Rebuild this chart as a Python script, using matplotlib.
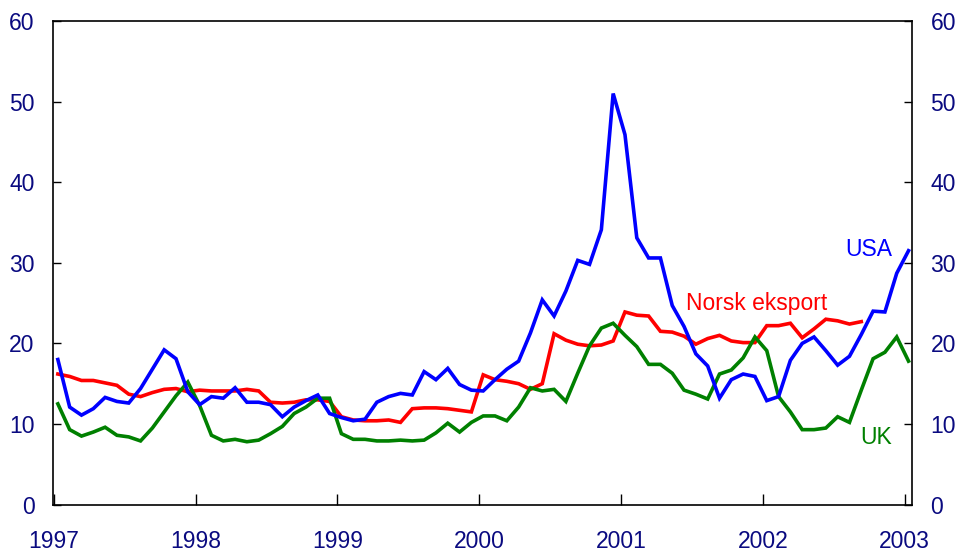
import numpy as np
import matplotlib
matplotlib.use("Agg")
import matplotlib.pyplot as plt

# Monthly series, January 1997 - January 2003
usa = [18.0, 12.1, 11.1, 11.9, 13.3, 12.8, 12.6, 14.4, 16.8, 19.2, 18.1, 14.0,
       12.4, 13.4, 13.2, 14.5, 12.7, 12.7, 12.4, 10.9, 12.1, 12.9, 13.6, 11.3,
       10.8, 10.4, 10.6, 12.7, 13.4, 13.8, 13.6, 16.5, 15.5, 16.9, 14.9, 14.2,
       14.1, 15.5, 16.8, 17.8, 21.3, 25.4, 23.4, 26.5, 30.3, 29.8, 34.1, 51.0,
       45.9, 33.1, 30.6, 30.6, 24.7, 22.1, 18.7, 17.2, 13.2, 15.5, 16.2, 15.9,
       12.9, 13.4, 17.9, 20.0, 20.8, 19.1, 17.3, 18.4, 21.1, 24.0, 23.9, 28.7,
       31.5]

norsk = [16.2, 15.9, 15.4, 15.4, 15.1, 14.8, 13.7, 13.4, 13.9, 14.3, 14.4, 14.0,
         14.2, 14.1, 14.1, 14.1, 14.3, 14.1, 12.7, 12.6, 12.7, 13.0, 13.0, 12.8,
         10.9, 10.5, 10.4, 10.4, 10.5, 10.2, 11.9, 12.0, 12.0, 11.9, 11.7, 11.5,
         16.1, 15.5, 15.3, 15.0, 14.3, 15.0, 21.2, 20.4, 19.9, 19.7, 19.8, 20.3,
         23.9, 23.5, 23.4, 21.5, 21.4, 20.9, 19.9, 20.6, 21.0, 20.3, 20.1, 20.1,
         22.2, 22.2, 22.5, 20.7, 21.8, 23.0, 22.8, 22.4, 22.7]

uk = [12.5, 9.3, 8.5, 9.0, 9.6, 8.6, 8.4, 7.9, 9.5, 11.5, 13.5, 15.2,
      12.3, 8.6, 7.9, 8.1, 7.8, 8.0, 8.8, 9.7, 11.3, 12.1, 13.2, 13.2,
      8.8, 8.1, 8.1, 7.9, 7.9, 8.0, 7.9, 8.0, 8.9, 10.1, 9.0, 10.2,
      11.0, 11.0, 10.4, 12.1, 14.5, 14.1, 14.3, 12.8, 16.3, 19.7, 21.9, 22.5,
      21.0, 19.6, 17.4, 17.4, 16.3, 14.2, 13.7, 13.1, 16.2, 16.7, 18.2, 20.8,
      19.1, 13.4, 11.5, 9.3, 9.3, 9.5, 10.9, 10.2, 14.2, 18.1, 18.9, 20.8,
      17.8]

start_year = 1997
years = [1997, 1998, 1999, 2000, 2001, 2002, 2003]
yticks = [0, 10, 20, 30, 40, 50, 60]


def month_positions(n):
    # fractional year for each month (around the 10th of the month)
    return start_year + (np.arange(n) + 1 / 3) / 12


navy = "#0a0a80"
plt.rcParams["font.family"] = ["Liberation Sans", "DejaVu Sans"]

fig = plt.figure(figsize=(9.62, 5.51), dpi=100)
ax = fig.add_axes([0.0556, 0.0842, 0.8921, 0.8777])

lw = 2.6
ax.plot(month_positions(len(norsk)), norsk, color="#ff0000", lw=lw,
        solid_joinstyle="miter")
ax.plot(month_positions(len(uk)), uk, color="#008000", lw=lw,
        solid_joinstyle="miter")
ax.plot(month_positions(len(usa)), usa, color="#0000ff", lw=lw,
        solid_joinstyle="miter")

ax.set_xlim(1996.997, 2003.05)
ax.set_ylim(0, 60)
ax.set_xticks(years)
ax.set_xticklabels([str(y) for y in years])
ax.set_yticks(yticks)
ax.set_yticklabels([str(v) for v in yticks])

for side in ["left", "right", "top", "bottom"]:
    ax.spines[side].set_linewidth(1.2)
    ax.spines[side].set_color("black")

ax.tick_params(axis="y", which="both", direction="in", length=5.5, width=1,
               left=True, right=True, labelleft=True, labelright=True,
               labelsize=16.5, labelcolor=navy, pad=13.5)
ax.tick_params(axis="x", direction="in", length=8, width=1, top=False,
               labelsize=16.5, labelcolor=navy, pad=18)

ax.text(2002.58, 30.8, "USA", color="#0000ff", fontsize=16.5, va="baseline")
ax.text(2001.457, 24.1, "Norsk eksport", color="#ff0000", fontsize=16.5,
        va="baseline")
ax.text(2002.684, 7.5, "UK", color="#008000", fontsize=16.5, va="baseline")

fig.savefig("out.png", dpi=100)
